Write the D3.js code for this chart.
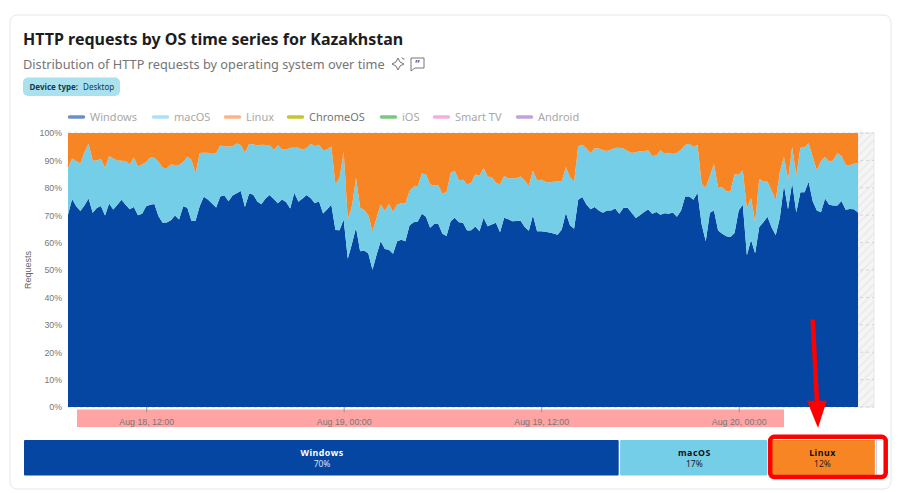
<!DOCTYPE html>
<html>
<head>
<meta charset="utf-8">
<script src="https://cdn.jsdelivr.net/npm/d3@7"></script>
<style>
  html, body { margin: 0; padding: 0; background: #fff; }
  svg { display: block; }
  text { font-family: "Noto Sans", sans-serif; }
  .axis text { font-family: "Liberation Sans", sans-serif; font-size: 8.8px; fill: #777; }
</style>
</head>
<body>
<div class="container"></div>
<script>
/********** the Data **********/
// one reading every 15 minutes, percent of requests
const windowsShare = [70.2,75.9,73.3,71.5,73.5,76.1,70.9,72.6,73.4,69.9,74.3,72.1,73.8,75.6,73.8,72.2,73.0,70.0,70.5,73.3,73.8,74.1,69.6,67.2,67.3,68.2,69.9,68.4,73.3,72.7,68.0,68.0,73.3,76.7,75.7,74.3,72.8,76.8,77.3,75.1,77.2,78.0,78.8,73.0,77.8,77.6,75.0,74.0,76.1,77.4,75.9,74.4,75.7,74.8,72.4,78.2,74.9,76.1,77.4,76.2,74.4,75.1,70.6,72.2,73.8,64.6,64.5,68.4,54.1,59.5,65.4,56.8,57.1,56.0,50.1,55.6,60.5,57.7,57.4,55.9,60.5,61.0,60.5,66.2,67.4,67.7,70.5,69.4,65.4,66.8,66.8,63.2,62.4,67.8,69.1,67.4,67.2,64.4,64.5,65.9,64.1,69.1,66.0,66.6,67.2,63.8,69.1,68.5,67.8,67.9,68.0,65.7,64.3,70.0,64.1,64.1,64.0,63.7,63.3,62.9,64.8,70.9,66.3,65.1,75.6,76.6,73.9,72.2,73.0,71.7,70.9,71.7,71.7,72.4,70.5,72.7,72.7,70.9,69.0,70.0,71.2,72.1,70.5,71.2,70.2,70.7,70.5,71.0,69.4,71.7,76.8,76.8,75.6,78.2,66.6,60.5,70.9,71.7,64.4,63.2,62.3,62.0,63.5,71.7,73.8,55.4,61.0,56.1,65.7,67.4,69.4,65.6,62.7,69.0,80.9,72.2,81.8,71.0,78.4,78.4,82.2,75.1,71.7,71.1,76.1,73.8,73.5,73.5,75.2,72.0,72.3,72.2,71.0];
const macosShare = [16.9,14.8,16.5,17.4,19.5,20.0,19.0,17.5,17.0,17.3,17.3,18.6,16.2,14.3,16.0,16.3,18.1,17.8,18.0,16.1,17.3,16.9,19.9,20.1,19.8,20.3,18.4,19.9,16.1,18.6,22.2,17.2,19.4,16.1,17.1,18.0,19.9,18.6,17.8,20.0,18.0,18.2,16.8,19.8,18.2,18.3,20.4,21.7,19.5,18.2,18.0,21.1,18.4,19.1,22.2,16.4,19.7,17.8,17.1,19.9,20.8,20.6,23.1,21.8,21.3,16.6,19.2,24.8,14.4,13.8,18.3,15.9,14.8,14.0,14.0,13.4,13.4,13.8,16.7,15.3,13.4,13.4,13.9,12.6,13.0,12.9,14.7,15.5,15.8,14.0,14.0,14.6,16.1,17.6,17.1,15.4,15.7,16.8,17.3,19.0,20.2,18.2,18.0,17.3,14.6,17.4,15.2,15.0,15.7,15.6,16.1,17.0,16.4,16.2,18.6,18.8,18.2,18.2,18.9,19.4,17.5,16.7,17.6,17.1,19.6,19.1,20.4,20.5,21.4,22.6,22.8,21.7,22.3,22.1,24.1,21.6,20.7,21.8,24.0,23.3,22.1,21.6,21.1,20.6,23.5,21.7,22.3,21.3,23.4,22.2,18.8,19.3,19.3,17.4,14.9,19.5,13.4,17.1,15.6,17.0,16.4,16.8,21.4,13.1,12.5,17.0,15.3,11.3,17.6,14.9,12.8,13.4,12.8,16.7,10.4,10.8,13.1,13.5,16.2,16.4,14.1,16.1,14.6,18.7,15.1,15.8,16.6,19.1,16.4,16.4,15.9,16.6,17.9];
const linuxShare = [12.9,9.3,10.2,11.1,7.0,3.9,10.1,9.9,9.6,12.8,8.4,9.3,10.0,10.1,10.2,11.5,8.9,12.2,11.5,10.6,8.9,9.0,10.5,12.7,12.9,11.5,11.7,11.7,10.6,8.7,9.8,14.8,7.3,7.2,7.2,7.7,7.3,4.6,4.9,4.9,4.8,3.8,4.4,7.2,4.0,4.1,4.6,4.3,4.4,4.4,6.1,4.5,5.9,6.1,5.4,5.4,5.4,6.1,5.5,3.9,4.8,4.3,6.3,6.0,4.9,18.8,16.3,6.8,31.5,26.7,16.3,27.3,28.1,30.0,35.9,31.0,26.1,28.5,25.9,28.8,26.1,25.6,25.6,21.2,19.6,19.4,14.8,15.1,18.8,19.2,19.2,22.2,21.5,14.6,13.8,17.2,17.1,18.8,18.2,15.1,15.7,12.7,16.0,16.1,18.2,18.8,15.7,16.5,16.5,16.5,15.9,17.3,19.3,13.8,17.3,17.1,17.8,18.1,17.8,17.7,17.7,12.4,16.1,17.8,4.8,4.3,5.7,7.3,5.6,5.7,6.3,6.6,6.0,5.5,5.4,5.7,6.6,7.3,7.0,6.7,6.7,6.3,8.4,8.2,6.3,7.6,7.2,7.7,7.2,6.1,4.4,3.9,5.1,4.4,18.5,20.0,15.7,11.2,20.0,19.8,21.3,21.2,15.1,15.2,13.7,27.6,23.7,32.6,16.7,17.7,17.8,21.0,24.5,14.3,8.7,17.0,5.1,15.5,5.4,5.2,3.7,8.8,13.7,10.2,8.8,10.4,9.9,7.4,8.4,11.6,11.8,11.2,11.1];

const legendNames = ["Windows", "macOS", "Linux", "ChromeOS", "iOS", "Smart TV", "Android"];
const legendColors = ["#6a8fc9", "#abe2f1", "#fbb584", "#c7c52f", "#7cc77f", "#f3b0de", "#c4a3db"];

const percentTicks = [0, 10, 20, 30, 40, 50, 60, 70, 80, 90, 100];
const timeTicks = ["2024-08-18T12:00Z", "2024-08-19T00:00Z", "2024-08-19T12:00Z", "2024-08-20T00:00Z"];

const barNames = ["Windows", "macOS", "Linux", "Other"];
const barValues = [69.8, 17.4, 12.6, 0.2];
const barLabels = ["70%", "17%", "12%", ""];

const seriesColors = {windows: "#0546a3", macos: "#74cee7", linux: "#f88524"};

/********** drawChart function **********/
function drawChart() {
  let width = 898, height = 493;
  let margin = {top: 133, right: 40, bottom: 86, left: 68};
  let plotRight = 858; // data stops here, the rest up to 874 is the hatched "no data" bit

  let svg = d3.select(".container").append("svg")
    .attr("width", width)
    .attr("height", height);

  /***** hatch for the no data part *****/
  let hatch = svg.append("defs").append("pattern")
    .attr("id", "hatch")
    .attr("width", 6).attr("height", 6)
    .attr("patternUnits", "userSpaceOnUse")
    .attr("patternTransform", "rotate(-45)");
  hatch.append("rect").attr("width", 6).attr("height", 6).attr("fill", "#f5f5f5");
  hatch.append("line").attr("x1", 0).attr("x2", 6).attr("y1", 3).attr("y2", 3)
    .attr("stroke", "#e9e9e9").attr("stroke-width", 1.5);

  /***** card *****/
  svg.append("rect")
    .attr("x", 10).attr("y", 15)
    .attr("width", 881).attr("height", 474)
    .attr("rx", 7)
    .attr("fill", "#fff")
    .attr("stroke", "#e6e6e6");

  /***** title block *****/
  svg.append("text").attr("x", 23).attr("y", 45)
    .style("font-size", "16px").style("font-weight", 700).attr("fill", "#1d1d1d")
    .text("HTTP requests by OS time series for Kazakhstan");
  svg.append("text").attr("x", 23).attr("y", 69)
    .style("font-size", "12.75px").attr("fill", "#757575")
    .text("Distribution of HTTP requests by operating system over time");

  // sparkle and quote icons next to the subtitle
  svg.append("path")
    .attr("d", "M398 58 L400 62 L404 64 L400 66 L398 70 L396 66 L392 64 L396 62 Z M402 57.5 L403 59 M404.5 59 L403 59")
    .attr("fill", "none").attr("stroke", "#666").attr("stroke-width", 0.9);
  svg.append("path")
    .attr("d", "M411 58 H424 V68 H415 L411 71 Z")
    .attr("fill", "none").attr("stroke", "#666").attr("stroke-width", 0.9);
  svg.append("text").attr("x", 417.5).attr("y", 68).attr("text-anchor", "middle")
    .style("font-size", "10px").style("font-weight", 700).attr("fill", "#666").text("”");

  /***** device type badge *****/
  svg.append("rect").attr("x", 23).attr("y", 77.5)
    .attr("width", 97).attr("height", 18.5).attr("rx", 5).attr("fill", "#aae1ef");
  let badge = svg.append("text").attr("x", 29.5).attr("y", 90)
    .style("font-size", "8px").attr("fill", "#14394a");
  badge.append("tspan").style("font-weight", 700).text("Device type:");
  badge.append("tspan").attr("dx", 5).text("Desktop");

  /***** legend *****/
  let legendX = [68, 152, 224, 287, 380, 433, 516];
  let legend = svg.selectAll(".legend-item")
    .data(legendNames)
    .enter().append("g")
      .attr("class", "legend-item")
      .attr("transform", (d, i) => `translate(${legendX[i]}, 117)`);
  legend.append("line")
    .attr("x1", 1.5).attr("x2", 15.5)
    .attr("stroke", (d, i) => legendColors[i])
    .attr("stroke-width", 3.5)
    .attr("stroke-linecap", "round");
  legend.append("text")
    .attr("x", 22).attr("y", 4)
    .style("font-size", "11px")
    .attr("fill", d => d === "ChromeOS" ? "#757575" : "#a8a8a8")
    .text(d => d);

  /***** X-scale and Y-scale *****/
  let startTime = new Date("2024-08-18T07:15Z");
  let times = windowsShare.map((d, i) => new Date(+startTime + i * 15 * 60000));

  let xScale = d3.scaleUtc()
    .domain([times[0], times[times.length - 1]])
    .range([margin.left, plotRight]);

  let yScale = d3.scaleLinear()
    .domain([0, 100])
    .range([height - margin.bottom - 0, margin.top]);

  /***** no data area *****/
  svg.append("rect")
    .attr("x", plotRight).attr("y", margin.top)
    .attr("width", 16).attr("height", yScale(0) - margin.top)
    .attr("fill", "url(#hatch)")
    .attr("stroke", "#e4e4e4").attr("stroke-width", 0.8);

  /***** grid *****/
  svg.append("g")
    .selectAll("line")
    .data(percentTicks)
    .enter().append("line")
      .attr("x1", margin.left).attr("x2", 874)
      .attr("y1", d => yScale(d)).attr("y2", d => yScale(d))
      .attr("stroke", "#d4d4d4")
      .attr("stroke-dasharray", "3 3");

  /***** stacked areas *****/
  let rows = times.map((t, i) => ({
    time: t,
    windows: windowsShare[i],
    macos: macosShare[i],
    linux: linuxShare[i]
  }));

  let stack = d3.stack().keys(["windows", "macos", "linux"]);
  let area = d3.area()
    .x(d => xScale(d.data.time))
    .y0(d => yScale(d[0]))
    .y1(d => yScale(d[1]));

  svg.append("g").attr("class", "areas")
    .selectAll("path")
    .data(stack(rows))
    .enter().append("path")
      .attr("fill", d => seriesColors[d.key])
      .attr("d", area);

  /***** pink band behind the time labels *****/
  svg.append("rect")
    .attr("x", 77).attr("y", 409.5)
    .attr("width", 707).attr("height", 17.5)
    .attr("fill", "#ffa4a4");

  /***** axes *****/
  let xAxis = d3.axisBottom(xScale)
    .tickValues(timeTicks.map(d => new Date(d)))
    .tickFormat(d3.utcFormat("%b %-d, %H:%M"))
    .tickSize(5.5)
    .tickPadding(6.5);
  let xG = svg.append("g")
    .attr("class", "axis x-axis")
    .attr("transform", `translate(0, ${yScale(0)})`)
    .call(xAxis);
  xG.select(".domain").remove();
  xG.selectAll(".tick line").attr("stroke", "#999");

  let yAxis = d3.axisLeft(yScale)
    .tickValues(percentTicks)
    .tickFormat(d => d + "%")
    .tickSize(0)
    .tickPadding(6);
  let yG = svg.append("g")
    .attr("class", "axis y-axis")
    .attr("transform", `translate(${margin.left}, 0)`)
    .call(yAxis);
  yG.select(".domain").remove();

  svg.append("text")
    .attr("transform", "translate(31, 270) rotate(-90)")
    .attr("text-anchor", "middle")
    .style("font-size", "9px")
    .style("font-family", "Liberation Sans, sans-serif")
    .attr("fill", "#666")
    .text("Requests");

  /***** summary bar *****/
  let barScale = d3.scaleLinear().domain([0, 100]).range([24, 878]);
  let offsets = d3.cumsum(barValues);
  let barFill = [seriesColors.windows, seriesColors.macos, seriesColors.linux, "#a9bfe0"];

  let bars = svg.append("g").attr("class", "summary")
    .selectAll("g")
    .data(barNames)
    .enter().append("g");

  bars.append("rect")
    .attr("x", (d, i) => barScale(offsets[i] - barValues[i]))
    .attr("y", 440)
    .attr("width", (d, i) => Math.max(barScale(barValues[i]) - barScale(0) - 1.4, 0.8))
    .attr("height", 35.5)
    .attr("rx", 1)
    .attr("fill", (d, i) => barFill[i]);

  bars.filter(d => d !== "Other").append("text")
    .attr("x", (d, i) => barScale(offsets[i] - barValues[i] / 2))
    .attr("y", 455.5)
    .attr("text-anchor", "middle")
    .style("font-size", "8.8px")
    .style("font-weight", 700)
    .style("letter-spacing", "0.5px")
    .attr("fill", d => d === "Windows" ? "#fff" : "#111")
    .text(d => d);

  bars.filter(d => d !== "Other").append("text")
    .attr("x", (d, i) => barScale(offsets[i] - barValues[i] / 2))
    .attr("y", 467)
    .attr("text-anchor", "middle")
    .style("font-size", "8.5px")
    .attr("fill", d => d === "Windows" ? "#d5e0f2" : "#222")
    .text((d, i) => barLabels[i]);

  /***** red annotation on top of the screenshot *****/
  svg.append("rect")
    .attr("x", 770.2).attr("y", 436.8)
    .attr("width", 115.5).attr("height", 40.2)
    .attr("rx", 4)
    .attr("fill", "none")
    .attr("stroke", "#fe0000")
    .attr("stroke-width", 4.5);
  svg.append("line")
    .attr("x1", 812.7).attr("y1", 319.5)
    .attr("x2", 817).attr("y2", 402)
    .attr("stroke", "#fe0000")
    .attr("stroke-width", 4.5);
  svg.append("path")
    .attr("d", "M807 400.7 L826.7 400.7 L818 428 Z")
    .attr("fill", "#fe0000");
}

drawChart();
</script>
</body>
</html>
